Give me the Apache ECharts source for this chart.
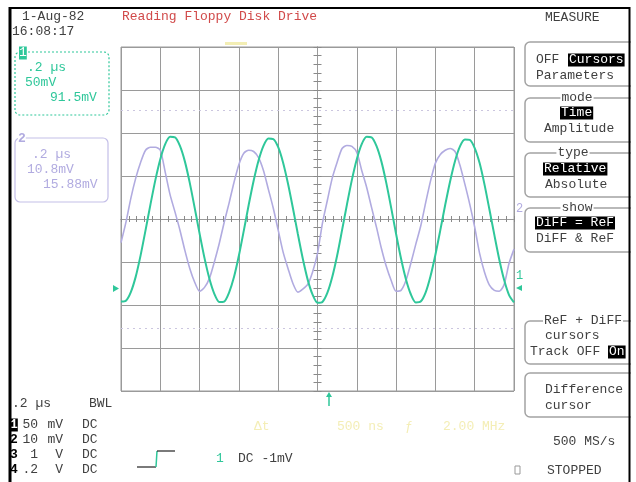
<!DOCTYPE html>
<html>
<head>
<meta charset="utf-8">
<script src="https://cdn.jsdelivr.net/npm/echarts@6/dist/echarts.min.js"></script>
<style>
  html, body { margin: 0; padding: 0; background: #fff; }
  #scope { width: 636px; height: 482px; }
</style>
</head>
<body>
<div id="scope"></div>
<script>
// Time base: 0.2 µs per division, 10 divisions, sampled every 25 ns
const timeUs = [
  -1, -0.975, -0.95, -0.925, -0.9, -0.875, -0.85, -0.825, -0.8, -0.775,
  -0.75, -0.725, -0.7, -0.675, -0.65, -0.625, -0.6, -0.575, -0.55, -0.525,
  -0.5, -0.475, -0.45, -0.425, -0.4, -0.375, -0.35, -0.325, -0.3, -0.275,
  -0.25, -0.225, -0.2, -0.175, -0.15, -0.125, -0.1, -0.075, -0.05, -0.025,
  0, 0.025, 0.05, 0.075, 0.1, 0.125, 0.15, 0.175, 0.2, 0.225,
  0.25, 0.275, 0.3, 0.325, 0.35, 0.375, 0.4, 0.425, 0.45, 0.475,
  0.5, 0.525, 0.55, 0.575, 0.6, 0.625, 0.65, 0.675, 0.7, 0.725,
  0.75, 0.775, 0.8, 0.825, 0.85, 0.875, 0.9, 0.925, 0.95, 0.975, 1
];

// Trace 1 (50 mV/div), in screen divisions
const trace1Div = [
  -1.92, -1.90, -1.70, -1.34, -0.84, -0.26, 0.34, 0.91, 1.39, 1.74,
  1.91, 1.90, 1.70, 1.34, 0.84, 0.26, -0.34, -0.91, -1.39, -1.74,
  -1.93, -1.92, -1.71, -1.35, -0.85, -0.27, 0.33, 0.89, 1.36, 1.70,
  1.87, 1.86, 1.67, 1.31, 0.82, 0.25, -0.35, -0.92, -1.41, -1.76,
  -1.95, -1.93, -1.72, -1.35, -0.85, -0.26, 0.34, 0.91, 1.39, 1.74,
  1.91, 1.90, 1.70, 1.34, 0.84, 0.26, -0.35, -0.92, -1.40, -1.75,
  -1.94, -1.92, -1.71, -1.33, -0.83, -0.26, 0.33, 0.88, 1.35, 1.69,
  1.85, 1.84, 1.65, 1.30, 0.80, 0.22, -0.37, -0.94, -1.42, -1.77, -1.94
];

// Trace 2 (10 mV/div), in screen divisions
const trace2Div = [
  -0.55, -0.08, 0.48, 0.95, 1.32, 1.60, 1.67, 1.67, 1.60, 1.09,
  0.56, 0.16, -0.26, -0.73, -1.15, -1.47, -1.68, -1.59, -1.38, -1.00,
  -0.57, -0.08, 0.37, 0.85, 1.27, 1.53, 1.60, 1.57, 1.43, 1.13,
  0.69, 0.25, -0.26, -0.77, -1.15, -1.50, -1.70, -1.63, -1.52, -1.23,
  -0.80, -0.10, 0.43, 0.95, 1.32, 1.64, 1.71, 1.69, 1.55, 1.13,
  0.74, 0.27, -0.19, -0.68, -1.10, -1.43, -1.68, -1.66, -1.43, -1.03,
  -0.59, -0.17, 0.37, 0.88, 1.30, 1.50, 1.60, 1.64, 1.57, 1.25,
  0.81, 0.34, -0.19, -0.80, -1.24, -1.54, -1.66, -1.68, -1.52, -1.03, -0.70
];

// Horizontal cursor levels (divisions)
const cursorLevels = [2.53, -2.54];

// Channel settings shown in the lower-left table
const channelIds = ['1', '2', '3', '4'];
const channelScale = ['50', '10', '1', '.2'];
const channelUnit = ['mV', 'mV', 'V', 'V'];
const channelCoupling = ['DC', 'DC', 'DC', 'DC'];

const GREEN = '#2fc79a';
const LAVENDER = '#b1abe0';
const INK = '#404040';
const FONT = '13px "Liberation Mono", "DejaVu Sans Mono", monospace';

function txt(x, y, s, color, extra) {
  const style = Object.assign({
    text: s, font: FONT, fill: color || INK, align: 'left', verticalAlign: 'middle'
  }, extra || {});
  return { type: 'text', x: x, y: y, z: 20, style: style };
}
function hi(x, y, s) {
  return txt(x, y, s, '#fff', { backgroundColor: '#000', padding: [0, 1, 0, 1] });
}
function boxLabel(cx, y, s) {
  return txt(cx, y, s, INK, { align: 'center', backgroundColor: '#fff', padding: [0, 1, 0, 1] });
}
function rect(x, y, w, h, stroke, extra) {
  return {
    type: 'rect', z: 10,
    shape: { x: x, y: y, width: w, height: h, r: 5 },
    style: Object.assign({ fill: 'transparent', stroke: stroke, lineWidth: 1.5 }, extra || {})
  };
}
function seg(x1, y1, x2, y2, color, w) {
  return { type: 'line', z: 15, shape: { x1: x1, y1: y1, x2: x2, y2: y2 }, style: { stroke: color, lineWidth: w || 1 } };
}

const elements = [];

// Header
elements.push(txt(22, 17, '1-Aug-82'));
elements.push(txt(12, 32, '16:08:17'));
elements.push(txt(122, 17, 'Reading Floppy Disk Drive', '#d14a4a'));
elements.push({ type: 'rect', z: 5, shape: { x: 225, y: 42, width: 22, height: 3 }, style: { fill: '#f3eeb4' } });

// Channel 1 trace box
elements.push(rect(15, 52, 94, 63, GREEN, { lineDash: [2, 2], lineWidth: 1.2 }));
elements.push(txt(19, 53, '1', '#fff', { backgroundColor: GREEN, padding: [0, 0, 0, 0] }));
elements.push(txt(27, 68, '.2 µs', GREEN));
elements.push(txt(25, 83, '50mV', GREEN));
elements.push(txt(50, 98, '91.5mV', GREEN));

// Channel 2 trace box
elements.push(rect(15, 138, 93, 64, '#c4bfe8', { lineWidth: 1.2 }));
elements.push(txt(18, 139, '2', LAVENDER, { backgroundColor: '#fff', font: 'bold ' + FONT }));
elements.push(txt(32, 155, '.2 µs', LAVENDER));
elements.push(txt(27, 170, '10.8mV', LAVENDER));
elements.push(txt(43, 185, '15.88mV', LAVENDER));

// Lower-left timebase and channel table
elements.push(txt(12, 404, '.2 µs'));
elements.push(txt(89, 404, 'BWL'));
channelIds.forEach(function (id, i) {
  const y = 425 + i * 15;
  if (i === 0) {
    elements.push(txt(10, y, id, '#fff', { backgroundColor: '#000', font: 'bold ' + FONT }));
  } else {
    elements.push(txt(10, y, id, '#000', { font: 'bold ' + FONT }));
  }
  elements.push(txt(38, y, channelScale[i], INK, { align: 'right' }));
  elements.push(txt(63, y, channelUnit[i], INK, { align: 'right' }));
  elements.push(txt(82, y, channelCoupling[i]));
});

// Trigger slope icon and setting
elements.push(seg(137, 467, 156, 467, '#222', 1.2));
elements.push(seg(156, 467, 157, 451, GREEN, 1.5));
elements.push(seg(157, 451, 175, 451, '#222', 1.2));
elements.push(txt(216, 459, '1', GREEN));
elements.push(txt(238, 459, 'DC -1mV'));

// Cursor readout (faint)
const FAINT = '#f4eeb6';
elements.push(txt(254, 427, 'Δt', FAINT));
elements.push(txt(337, 427, '500 ns', FAINT));
elements.push(txt(405, 427, 'ƒ', FAINT));
elements.push(txt(443, 427, '2.00 MHz', FAINT));

// Trigger position marker under the grid
elements.push({ type: 'polygon', z: 15, shape: { points: [[326, 397], [329, 392], [332, 397]] }, style: { fill: GREEN } });
elements.push(seg(329, 394, 329, 406, GREEN, 1.5));

// Ground / offset markers
elements.push({ type: 'polygon', z: 15, shape: { points: [[113, 285], [119, 288.5], [113, 292]] }, style: { fill: GREEN } });
elements.push(txt(516, 276, '1', GREEN, { font: '12px "Liberation Mono", monospace' }));
elements.push({ type: 'polygon', z: 15, shape: { points: [[516, 288], [522, 285], [522, 291]] }, style: { fill: GREEN } });
elements.push(txt(516, 209, '2', LAVENDER, { font: '12px "Liberation Mono", monospace' }));

// Right-hand menu
const BOX = '#a3a3a3';
elements.push(txt(545, 18, 'MEASURE'));
elements.push(rect(525, 42, 120, 44, BOX));
elements.push(txt(536, 60, 'OFF'));
elements.push(hi(568, 60, 'Cursors'));
elements.push(txt(536, 76, 'Parameters'));

elements.push(rect(525, 98, 120, 44, BOX));
elements.push(boxLabel(577, 98, 'mode'));
elements.push(hi(560, 113, 'Time'));
elements.push(txt(544, 129, 'Amplitude'));

elements.push(rect(525, 153, 120, 44, BOX));
elements.push(boxLabel(573, 153, 'type'));
elements.push(hi(543, 169, 'Relative'));
elements.push(txt(545, 185, 'Absolute'));

elements.push(rect(525, 208, 120, 44, BOX));
elements.push(boxLabel(577, 208, 'show'));
elements.push(hi(535, 223, 'DiFF = ReF'));
elements.push(txt(536, 239, 'DiFF & ReF'));

elements.push(rect(525, 321, 120, 43, BOX));
elements.push(boxLabel(583, 321, 'ReF + DiFF'));
elements.push(txt(545, 336, 'cursors'));
elements.push(txt(530, 352, 'Track OFF'));
elements.push(hi(608, 352, 'On'));

elements.push(rect(525, 373, 120, 44, BOX));
elements.push(txt(545, 390, 'Difference'));
elements.push(txt(545, 406, 'cursor'));

elements.push(txt(553, 442, '500 MS/s'));
elements.push({ type: 'rect', z: 15, shape: { x: 515, y: 466, width: 5, height: 8 }, style: { fill: 'transparent', stroke: '#999', lineWidth: 1 } });
elements.push(txt(547, 471, 'STOPPED'));

// Screen frame
elements.push({ type: 'rect', z: 30, shape: { x: 631, y: 0, width: 10, height: 482 }, style: { fill: '#fff' } });
elements.push(seg(10, 7, 10, 482, '#000', 3));
elements.push(seg(9, 8, 630, 8, '#000', 2));
elements.push(seg(629.5, 7, 629.5, 482, '#000', 2));
elements.forEach(function (e) { if (e.type === 'line' && e.style.stroke === '#000') e.z = 31; });

const GRIDLINE = '#9a9a9a';
const tickAxisX = function (inside) {
  return {
    type: 'value', min: -1, max: 1, interval: 0.2, position: 'bottom',
    axisLine: { show: true, onZero: true, lineStyle: { color: GRIDLINE } },
    axisTick: { show: true, inside: inside, length: 3, lineStyle: { color: '#8a8a8a' } },
    minorTick: { show: true, splitNumber: 5, length: 3, lineStyle: { color: '#8a8a8a' } },
    axisLabel: { show: false }, splitLine: { show: false }
  };
};
const tickAxisY = function (inside) {
  return {
    type: 'value', min: -4, max: 4, interval: 1, position: 'left',
    axisLine: { show: true, onZero: true, lineStyle: { color: GRIDLINE } },
    axisTick: { show: true, inside: inside, length: 4, lineStyle: { color: '#8a8a8a' } },
    minorTick: { show: true, splitNumber: 5, length: 4, lineStyle: { color: '#8a8a8a' } },
    axisLabel: { show: false }, splitLine: { show: false }
  };
};

const chart = echarts.init(document.getElementById('scope'), null, { renderer: 'canvas' });
chart.setOption({
  animation: false,
  backgroundColor: '#fff',
  grid: { left: 121, top: 47, width: 393, height: 344, show: true, borderColor: GRIDLINE, borderWidth: 1 },
  xAxis: [
    {
      type: 'value', min: -1, max: 1, interval: 0.2,
      axisLine: { show: false }, axisTick: { show: false }, axisLabel: { show: false },
      splitLine: { show: true, lineStyle: { color: GRIDLINE, width: 1 } }
    },
    tickAxisX(true),
    tickAxisX(false)
  ],
  yAxis: [
    {
      type: 'value', min: -4, max: 4, interval: 1,
      axisLine: { show: false }, axisTick: { show: false }, axisLabel: { show: false },
      splitLine: { show: true, lineStyle: { color: GRIDLINE, width: 1 } }
    },
    tickAxisY(true),
    tickAxisY(false)
  ],
  series: [
    {
      name: 'Trace 2', type: 'line', xAxisIndex: 0, yAxisIndex: 0,
      data: timeUs.map(function (t, i) { return [t, trace2Div[i]]; }),
      smooth: 0.25, symbol: 'none', silent: true,
      lineStyle: { color: LAVENDER, width: 1.6 }
    },
    {
      name: 'Trace 1', type: 'line', xAxisIndex: 0, yAxisIndex: 0,
      data: timeUs.map(function (t, i) { return [t, trace1Div[i]]; }),
      smooth: 0.25, symbol: 'none', silent: true,
      lineStyle: { color: GREEN, width: 2 },
      markLine: {
        silent: true, symbol: 'none', label: { show: false },
        lineStyle: { color: '#cbc6df', type: [2, 4], width: 1 },
        data: cursorLevels.map(function (v) { return { yAxis: v }; })
      }
    }
  ],
  graphic: { elements: elements }
});
</script>
</body>
</html>
